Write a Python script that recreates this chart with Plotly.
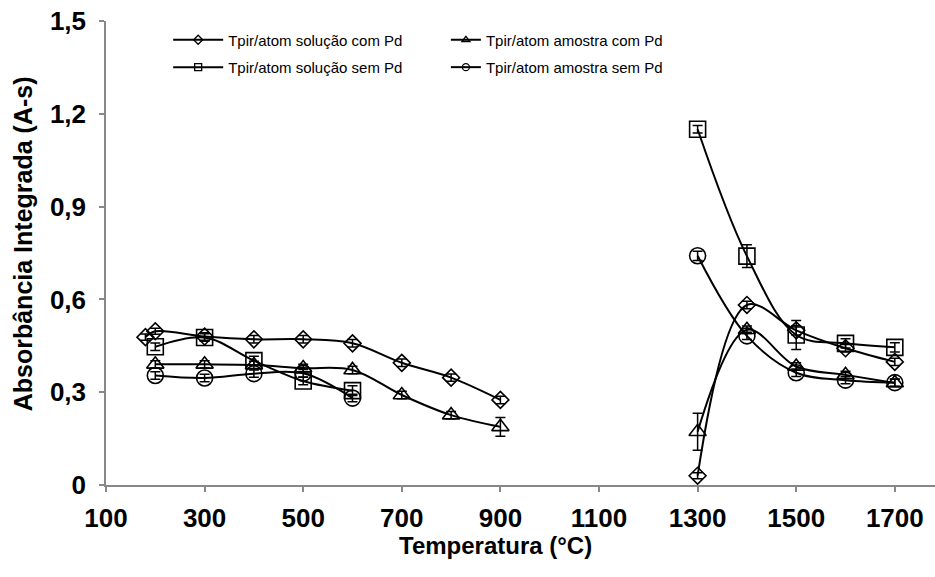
import plotly.graph_objects as go

# ---- data ----
x_sol_com = [180, 200, 300, 400, 500, 600, 700, 800, 900, None, 1300, 1400, 1500, 1600, 1700]
y_sol_com = [0.478, 0.497, 0.480, 0.471, 0.471, 0.458, 0.395, 0.347, 0.275, None, 0.030, 0.582, 0.500, 0.442, 0.398]
e_sol_com = [0.010, 0.010, 0.012, 0.012, 0.012, 0.012, 0.012, 0.012, 0.012, None, 0.010, 0.012, 0.015, 0.012, 0.012]

x_amo_com = [200, 300, 400, 500, 600, 700, 800, 900, None, 1300, 1400, 1500, 1600, 1700]
y_amo_com = [0.390, 0.390, 0.388, 0.378, 0.372, 0.291, 0.226, 0.188, None, 0.172, 0.502, 0.383, 0.356, 0.330]
e_amo_com = [0.012, 0.012, 0.012, 0.012, 0.012, 0.012, 0.012, 0.030, None, 0.060, 0.012, 0.012, 0.012, 0.012]

x_sol_sem = [200, 300, 400, 500, 600, None, 1300, 1400, 1500, 1600, 1700]
y_sol_sem = [0.447, 0.477, 0.402, 0.336, 0.305, None, 1.150, 0.740, 0.485, 0.458, 0.445]
e_sol_sem = [0.012, 0.012, 0.014, 0.012, 0.016, None, 0.012, 0.037, 0.047, 0.015, 0.015]

x_amo_sem = [200, 300, 400, 500, 600, None, 1300, 1400, 1500, 1600, 1700]
y_amo_sem = [0.354, 0.346, 0.360, 0.361, 0.281, None, 0.741, 0.482, 0.363, 0.339, 0.331]
e_amo_sem = [0.012, 0.012, 0.012, 0.012, 0.012, None, 0.015, 0.012, 0.012, 0.012, 0.012]

names = ["Tpir/atom solução com Pd", "Tpir/atom amostra com Pd",
         "Tpir/atom solução sem Pd", "Tpir/atom amostra sem Pd"]

x_tickvals = [100, 300, 500, 700, 900, 1100, 1300, 1500, 1700]
x_ticktext = ["100", "300", "500", "700", "900", "1100", "1300", "1500", "1700"]
y_tickvals = [0, 0.3, 0.6, 0.9, 1.2, 1.5]
y_ticktext = ["0", "0,3", "0,6", "0,9", "1,2", "1,5"]

FONT = "Liberation Sans, Arial, sans-serif"

series = [
    (x_sol_com, y_sol_com, e_sol_com, "diamond-open", 13, names[0], "legend"),
    (x_amo_com, y_amo_com, e_amo_com, "triangle-up-open", 15, names[1], "legend2"),
    (x_sol_sem, y_sol_sem, e_sol_sem, "square-open", 16, names[2], "legend3"),
    (x_amo_sem, y_amo_sem, e_amo_sem, "circle-open", 16, names[3], "legend4"),
]

fig = go.Figure()
for xs, ys, es, sym, sz, nm, lg in series:
    fig.add_trace(go.Scatter(
        x=xs, y=ys, mode="lines+markers", showlegend=False,
        line=dict(color="black", width=2, shape="spline", smoothing=1),
        marker=dict(symbol=sym, size=sz, color="black", line=dict(color="black", width=1.6)),
        error_y=dict(type="data", array=es, visible=True, color="black", thickness=1.5, width=5),
        connectgaps=False,
    ))
# legend entries (small markers like the reference legend)
for xs, ys, es, sym, sz, nm, lg in series:
    fig.add_trace(go.Scatter(
        x=[None], y=[None], mode="lines+markers", name=nm, legend=lg,
        line=dict(color="black", width=2),
        marker=dict(symbol=sym, size=7, color="black", line=dict(color="black", width=1.3)),
    ))

axis_common = dict(
    showline=True, linecolor="#888888", linewidth=1.5,
    ticks="outside", ticklen=5, tickcolor="#888888", tickwidth=1.5,
    showgrid=False, zeroline=False,
    tickfont=dict(family=FONT, size=26, color="black", weight="bold"),
)

legend_common = dict(orientation="h", xanchor="left", yanchor="middle",
                     bgcolor="rgba(0,0,0,0)",
                     font=dict(family=FONT, size=15, color="black"))

fig.update_layout(
    width=935, height=577,
    margin=dict(l=106, r=0, t=21, b=92),
    paper_bgcolor="white", plot_bgcolor="white",
    font=dict(family=FONT, color="black"),
    xaxis=dict(range=[100, 1781.5], tickmode="array", tickvals=x_tickvals, ticktext=x_ticktext,
               ticklabelstandoff=4, **axis_common),
    yaxis=dict(range=[0, 1.5], tickmode="array", tickvals=y_tickvals, ticktext=y_ticktext,
               ticklabelstandoff=8, **axis_common),
    legend=dict(x=0.075, y=0.959, itemwidth=50, **legend_common),
    legend2=dict(x=0.410, y=0.959, **legend_common),
    legend3=dict(x=0.075, y=0.900, itemwidth=50, **legend_common),
    legend4=dict(x=0.410, y=0.900, **legend_common),
    annotations=[
        dict(text="Temperatura (°C)", xref="paper", yref="paper", x=0.470, y=-0.131,
             xanchor="center", yanchor="middle", showarrow=False,
             font=dict(family=FONT, size=24, color="black", weight="bold")),
        dict(text="Absorbância Integrada (A-s)", xref="paper", yref="paper", x=-0.1, y=0.519,
             xanchor="center", yanchor="middle", showarrow=False, textangle=-90,
             font=dict(family=FONT, size=25, color="black", weight="bold")),
    ],
)

fig.write_html("out.html")
